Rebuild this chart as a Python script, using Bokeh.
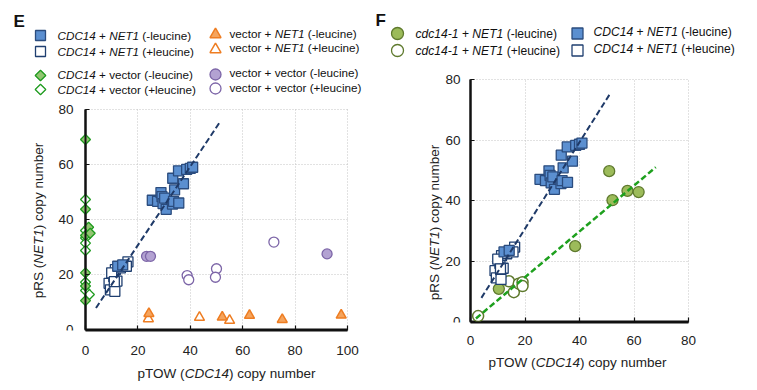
import math
from bokeh.plotting import figure
from bokeh.layouts import row, column
from bokeh.models import Range1d, FixedTicker, Label, BoxAnnotation
from bokeh.embed import file_html
from bokeh.resources import INLINE

# ---------------- data ----------------
x_ticks_E = [0, 20, 40, 60, 80, 100]
x_ticks_F = [0, 20, 40, 60, 80]
y_ticks = [0, 20, 40, 60, 80]

# CDC14 + NET1 (shown in panels E and F)
net1_minus_x = [25.5, 27.5, 28.8, 29.2, 29.6, 30.2, 30.8, 33.2, 33.6, 35.6, 34.0, 33.3, 35.5, 37.4, 38.6, 40.0, 40.9, 12.3, 14.2]
net1_minus_y = [47.0, 46.6, 49.8, 48.3, 45.8, 47.8, 43.7, 45.6, 46.6, 46.0, 50.8, 55.0, 57.7, 53.0, 58.2, 58.6, 59.0, 23.0, 23.5]
net1_plus_x = [9.0, 9.5, 11.2, 10.8, 11.4, 12.0, 13.3, 14.6, 16.2, 15.6, 10.0, 11.0]
net1_plus_y = [16.8, 14.4, 13.9, 19.2, 21.8, 17.6, 22.4, 23.3, 24.6, 23.0, 20.6, 17.4]
net1_fit_x = [4.0, 51.0]
net1_fit_y = [7.8, 75.0]

# CDC14 + vector
cvec_minus_x = [0.0, 0.0, 1.2, 0.0, 0.0, 0.0, 0.0, 1.8]
cvec_minus_y = [69.1, 43.7, 37.2, 34.2, 20.6, 15.8, 10.5, 35.0]
cvec_plus_x = [0.0, 0.0, 0.0, 0.0, 0.0, 0.0, 0.0, 1.5]
cvec_plus_y = [47.3, 36.0, 33.3, 31.4, 28.7, 17.2, 14.2, 12.7]

# vector + NET1
vnet_minus_x = [24.2, 52.2, 62.6, 75.1, 97.6]
vnet_minus_y = [5.8, 4.5, 5.1, 3.6, 5.2]
vnet_plus_x = [24.0, 43.5, 55.0]
vnet_plus_y = [3.9, 4.4, 3.3]

# vector + vector
vv_minus_x = [23.3, 24.8, 92.2]
vv_minus_y = [26.6, 26.6, 27.5]
vv_plus_x = [38.8, 39.4, 50.0, 49.6, 71.9]
vv_plus_y = [19.6, 18.1, 22.1, 19.0, 31.8]

# cdc14-1 + NET1
c141_minus_x = [10.4, 38.4, 50.9, 52.1, 57.6, 61.7]
c141_minus_y = [10.8, 24.9, 49.7, 40.1, 43.2, 42.8]
c141_plus_x = [2.8, 14.1, 15.9, 17.7, 19.1, 19.1]
c141_plus_y = [1.8, 13.3, 9.7, 12.5, 13.0, 11.7]
c141_fit_x = [2.0, 68.0]
c141_fit_y = [1.0, 51.0]

# ---------------- styles ----------------
FONT = "Liberation Sans"
SQ_FILL, SQ_EDGE, SQ_OPEN = "#5b8fd0", "#2b4c7e", "#1f3f70"
DIA_FILL, DIA_EDGE = "#93c572", "#1e9b1e"
TRI_FILL, TRI_EDGE = "#f5a45d", "#ee7d22"
PUR_FILL, PUR_EDGE = "#b3a2d2", "#7d66a8"
OLV_FILL, OLV_EDGE = "#9cbb5a", "#5f7a2e"
BLUE_LINE, GREEN_LINE = "#1f3a68", "#1ea01e"
AXIS = "#111111"
QUARTER = math.pi / 4

W = {' ': 278, '+': 584, '(': 333, ')': 333, '-': 333, 'C': 722, 'D': 722, 'N': 722,
     'E': 667, 'T': 611, 'R': 722, 'S': 667, 'O': 778, 'W': 944, 'a': 556, 'b': 556,
     'c': 500, 'd': 556, 'e': 556, 'i': 222, 'l': 222, 'n': 556, 'o': 556, 'p': 556,
     'r': 333, 't': 278, 'u': 556, 'v': 500, 'y': 500, 'm': 833}


def tw(s, size):
    return sum(W.get(ch, 556) for ch in s) * size / 1000.0


def put_text(p, segs, x0, y0, size, xs=1.0, ys=1.0, vertical=False, center=False, color="#111111"):
    total = sum(tw(t, size) for t, _ in segs)
    off = -total / 2.0 if center else 0.0
    for t, style in segs:
        lead = len(t) - len(t.lstrip(' '))
        off += tw(' ' * lead, size)
        core = t.strip(' ')
        if vertical:
            x, y = x0, y0 + off / ys
        else:
            x, y = x0 + off / xs, y0
        p.add_layout(Label(x=x, y=y, text=core, text_font=FONT, text_font_size=f"{size}px",
                           text_font_style=style, text_align="left", text_baseline="middle",
                           angle=(math.pi / 2 if vertical else 0), text_color=color))
        off += tw(t.lstrip(' '), size)


def style_panel(p, xt, yt, xstand, ystand):
    xb, yb = (xt[0], xt[-1]), (yt[0], yt[-1])
    for ax in p.axis:
        ax.major_tick_out = 0
        ax.minor_tick_in = 0
        ax.minor_tick_out = 0
        ax.axis_line_color = AXIS
        ax.axis_line_width = 2
        ax.major_tick_line_color = AXIS
        ax.major_tick_line_width = 1.2
        ax.major_label_text_font = FONT
        ax.major_label_text_font_size = "13.5px"
        ax.major_label_text_color = "#222222"
    p.xaxis.major_tick_in = 5
    p.yaxis.major_tick_in = 4
    p.xaxis.ticker = FixedTicker(ticks=xt)
    p.yaxis.ticker = FixedTicker(ticks=yt)
    p.xaxis.major_label_standoff = xstand
    p.yaxis.major_label_standoff = ystand
    p.xaxis.bounds = xb
    p.yaxis.bounds = yb
    p.yaxis.fixed_location = 0
    p.xgrid.ticker = FixedTicker(ticks=xt)
    p.ygrid.ticker = FixedTicker(ticks=yt)
    p.xgrid.bounds = xb
    p.ygrid.bounds = yb
    g = p.xgrid[0]
    if "cross_bounds" in g.properties():
        p.xgrid.cross_bounds = yb
        p.ygrid.cross_bounds = xb
    else:
        xr, yr = p.x_range, p.y_range
        p.add_layout(BoxAnnotation(left=xr.start, right=-0.6, bottom=yr.start, top=yr.end,
                                   fill_color="white", fill_alpha=1.0, line_color=None, level="underlay"))
        p.add_layout(BoxAnnotation(left=xr.start, right=xr.end, bottom=yb[1] + 0.3, top=yr.end,
                                   fill_color="white", fill_alpha=1.0, line_color=None, level="underlay"))
        p.add_layout(BoxAnnotation(left=xb[1] + 0.3, right=xr.end, bottom=yr.start, top=yr.end,
                                   fill_color="white", fill_alpha=1.0, line_color=None, level="underlay"))
    p.grid.grid_line_color = "#c4c4c4"
    p.grid.grid_line_dash = "1 2"
    p.grid.grid_line_width = 1
    p.outline_line_color = None
    # solid axis rules along the data region (beneath the markers)
    p.line(x=[xb[1], xb[0], xb[0]], y=[yb[0], yb[0], yb[1]], line_color=AXIS, line_width=2,
           line_join="miter")


def set_title(p, text, offset, standoff):
    p.title.text = text
    p.title.text_font = FONT
    p.title.text_font_size = "17px"
    p.title.text_font_style = "bold"
    p.title.text_color = "#111111"
    p.title.align = "left"
    p.title.offset = offset
    p.title.standoff = standoff


def strip_fig(w, h, xr, y0, bl, br):
    s = figure(width=w, height=h, x_range=xr, y_range=Range1d(y0 + h, y0),
               output_backend="svg", toolbar_location=None, x_axis_type=None, y_axis_type=None,
               min_border_left=bl, min_border_right=br, min_border_top=0, min_border_bottom=0)
    s.outline_line_color = None
    return s


# ---------------- panel E ----------------
EX0, EXS, EY0, EYS = 85.0, 2.62, 329.0, 2.75
ex = lambda px: (px - EX0) / EXS
ey = lambda py: (EY0 - py) / EYS
E_W, E_BL, E_BT, E_FB, E_BB = 364, 29, 26, 330, 30
E_H = E_FB + E_BB
xrE = Range1d(ex(E_BL), ex(E_W))
yrE = Range1d(ey(E_FB), ey(E_BT))
pE = figure(width=E_W, height=E_H, x_range=xrE, y_range=yrE,
            output_backend="svg", toolbar_location=None,
            min_border_left=E_BL, min_border_right=0, min_border_top=E_BT, min_border_bottom=E_BB)
style_panel(pE, x_ticks_E, y_ticks, 15, 12)
set_title(pE, "E", 13 - E_BL, -9)

pE.scatter(cvec_plus_x, cvec_plus_y, marker="square", angle=QUARTER, size=7, fill_color="white", line_color=DIA_EDGE, line_width=1.3)
pE.scatter(cvec_minus_x, cvec_minus_y, marker="square", angle=QUARTER, size=7, fill_color=DIA_FILL, line_color=DIA_EDGE, line_width=1.3)
pE.scatter(vnet_plus_x, vnet_plus_y, marker="triangle", size=10, fill_color="white", line_color=TRI_EDGE, line_width=1.5)
pE.scatter(vnet_minus_x, vnet_minus_y, marker="triangle", size=10, fill_color=TRI_FILL, line_color=TRI_EDGE, line_width=1.5)
pE.scatter(vv_plus_x, vv_plus_y, marker="circle", size=10, fill_color="white", line_color=PUR_EDGE, line_width=1.3)
pE.scatter(vv_minus_x, vv_minus_y, marker="circle", size=10, fill_color=PUR_FILL, line_color=PUR_EDGE, line_width=1.3)
pE.scatter(net1_plus_x, net1_plus_y, marker="square", size=10, fill_color="white", line_color=SQ_OPEN, line_width=1.3)
pE.scatter(net1_minus_x, net1_minus_y, marker="square", size=10, fill_color=SQ_FILL, line_color=SQ_EDGE, line_width=1.3)
pE.line(net1_fit_x, net1_fit_y, line_color=BLUE_LINE, line_width=2, line_dash="6 3")

# legend of panel E (inside the frame, above the data area)
pE.scatter([ex(40)], [ey(35)], marker="square", size=10, fill_color=SQ_FILL, line_color=SQ_EDGE, line_width=1.3)
pE.scatter([ex(40)], [ey(51)], marker="square", size=10, fill_color="white", line_color=SQ_OPEN, line_width=1.3)
pE.scatter([ex(40)], [ey(75)], marker="square", angle=QUARTER, size=7.5, fill_color=DIA_FILL, line_color=DIA_EDGE, line_width=1.3)
pE.scatter([ex(40)], [ey(89)], marker="square", angle=QUARTER, size=7.5, fill_color="white", line_color=DIA_EDGE, line_width=1.3)
pE.scatter([ex(215)], [ey(34)], marker="triangle", size=11, fill_color=TRI_FILL, line_color=TRI_EDGE, line_width=1.5)
pE.scatter([ex(215)], [ey(49)], marker="triangle", size=11, fill_color="white", line_color=TRI_EDGE, line_width=1.5)
pE.scatter([ex(215)], [ey(74)], marker="circle", size=11, fill_color=PUR_FILL, line_color=PUR_EDGE, line_width=1.3)
pE.scatter([ex(215)], [ey(88)], marker="circle", size=11, fill_color="white", line_color=PUR_EDGE, line_width=1.3)
LS = 11.7
put_text(pE, [("CDC14", "italic"), (" + ", "normal"), ("NET1", "italic"), (" (-leucine)", "normal")], ex(57), ey(35), LS, EXS, EYS)
put_text(pE, [("CDC14", "italic"), (" + ", "normal"), ("NET1", "italic"), (" (+leucine)", "normal")], ex(57), ey(51), LS, EXS, EYS)
put_text(pE, [("CDC14", "italic"), (" + vector (-leucine)", "normal")], ex(57), ey(74), LS, EXS, EYS)
put_text(pE, [("CDC14", "italic"), (" + vector (+leucine)", "normal")], ex(57), ey(89), LS, EXS, EYS)
put_text(pE, [("vector + ", "normal"), ("NET1", "italic"), (" (-leucine)", "normal")], ex(229), ey(33), LS, EXS, EYS)
put_text(pE, [("vector + ", "normal"), ("NET1", "italic"), (" (+leucine)", "normal")], ex(229), ey(47), LS, EXS, EYS)
put_text(pE, [("vector + vector (-leucine)", "normal")], ex(229), ey(72), LS, EXS, EYS)
put_text(pE, [("vector + vector (+leucine)", "normal")], ex(229), ey(87), LS, EXS, EYS)
put_text(pE, [("pRS (", "normal"), ("NET1", "italic"), (") copy number", "normal")],
         ex(38), ey(220), 13.5, EXS, EYS, vertical=True, center=True, color="#222222")

sE = strip_fig(E_W, 388 - E_H, xrE, E_H, E_BL, 0)
put_text(sE, [("pTOW (", "normal"), ("CDC14", "italic"), (") copy number", "normal")],
         ex(226), 373, 13.5, EXS, 1.0, center=True, color="#222222")

# ---------------- panel F ----------------
FX0, FXS, FY0, FYS = 470.0, 2.725, 321.0, 3.025
F_LEFT = E_W
fx = lambda px: (px - FX0) / FXS
fy = lambda py: (FY0 - py) / FYS
F_W, F_BL, F_BR, F_BT, F_FB, F_BB = 391, 26, 17, 25, 322, 30
F_H = F_FB + F_BB
xrF = Range1d(fx(F_LEFT + F_BL), fx(F_LEFT + F_W - F_BR))
yrF = Range1d(fy(F_FB), fy(F_BT))
pF = figure(width=F_W, height=F_H, x_range=xrF, y_range=yrF,
            output_backend="svg", toolbar_location=None,
            min_border_left=F_BL, min_border_right=F_BR, min_border_top=F_BT, min_border_bottom=F_BB)
style_panel(pF, x_ticks_F, y_ticks, 13, 10)
set_title(pF, "F", 375 - (F_LEFT + F_BL), -9)

pF.scatter(c141_plus_x, c141_plus_y, marker="circle", size=11, fill_color="white", line_color=OLV_EDGE, line_width=1.5)
pF.scatter(c141_minus_x, c141_minus_y, marker="circle", size=11, fill_color=OLV_FILL, line_color=OLV_EDGE, line_width=1.3)
pF.scatter(net1_plus_x, net1_plus_y, marker="square", size=10, fill_color="white", line_color=SQ_OPEN, line_width=1.3)
pF.scatter(net1_minus_x, net1_minus_y, marker="square", size=10, fill_color=SQ_FILL, line_color=SQ_EDGE, line_width=1.3)
pF.line(net1_fit_x, net1_fit_y, line_color=BLUE_LINE, line_width=2, line_dash="6 3")
pF.line(c141_fit_x, c141_fit_y, line_color=GREEN_LINE, line_width=2.5, line_dash="6 3")

pF.scatter([fx(397)], [fy(33)], marker="circle", size=12, fill_color=OLV_FILL, line_color=OLV_EDGE, line_width=1.3)
pF.scatter([fx(397)], [fy(50)], marker="circle", size=12, fill_color="white", line_color=OLV_EDGE, line_width=1.3)
pF.scatter([fx(577)], [fy(33)], marker="square", size=11, fill_color=SQ_FILL, line_color=SQ_EDGE, line_width=1.3)
pF.scatter([fx(577)], [fy(50)], marker="square", size=11, fill_color="white", line_color=SQ_OPEN, line_width=1.3)
LF = 12.1
put_text(pF, [("cdc14-1", "italic"), (" + ", "normal"), ("NET1", "italic"), (" (-leucine)", "normal")], fx(415), fy(33), LF, FXS, FYS)
put_text(pF, [("cdc14-1", "italic"), (" + ", "normal"), ("NET1", "italic"), (" (+leucine)", "normal")], fx(415), fy(50), LF, FXS, FYS)
put_text(pF, [("CDC14", "italic"), (" + ", "normal"), ("NET1", "italic"), (" (-leucine)", "normal")], fx(593), fy(31), LF, FXS, FYS)
put_text(pF, [("CDC14", "italic"), (" + ", "normal"), ("NET1", "italic"), (" (+leucine)", "normal")], fx(593), fy(48), LF, FXS, FYS)
put_text(pF, [("pRS (", "normal"), ("NET1", "italic"), (") copy number", "normal")],
         fx(434), fy(222), 13.5, FXS, FYS, vertical=True, center=True, color="#222222")

sF = strip_fig(F_W, 388 - F_H, xrF, F_H, F_BL, F_BR)
put_text(sF, [("pTOW (", "normal"), ("CDC14", "italic"), (") copy number", "normal")],
         fx(577), 362, 13.5, FXS, 1.0, center=True, color="#222222")

layout = row(column(pE, sE), column(pF, sF))
open("out.html", "w").write(file_html(layout, INLINE))
